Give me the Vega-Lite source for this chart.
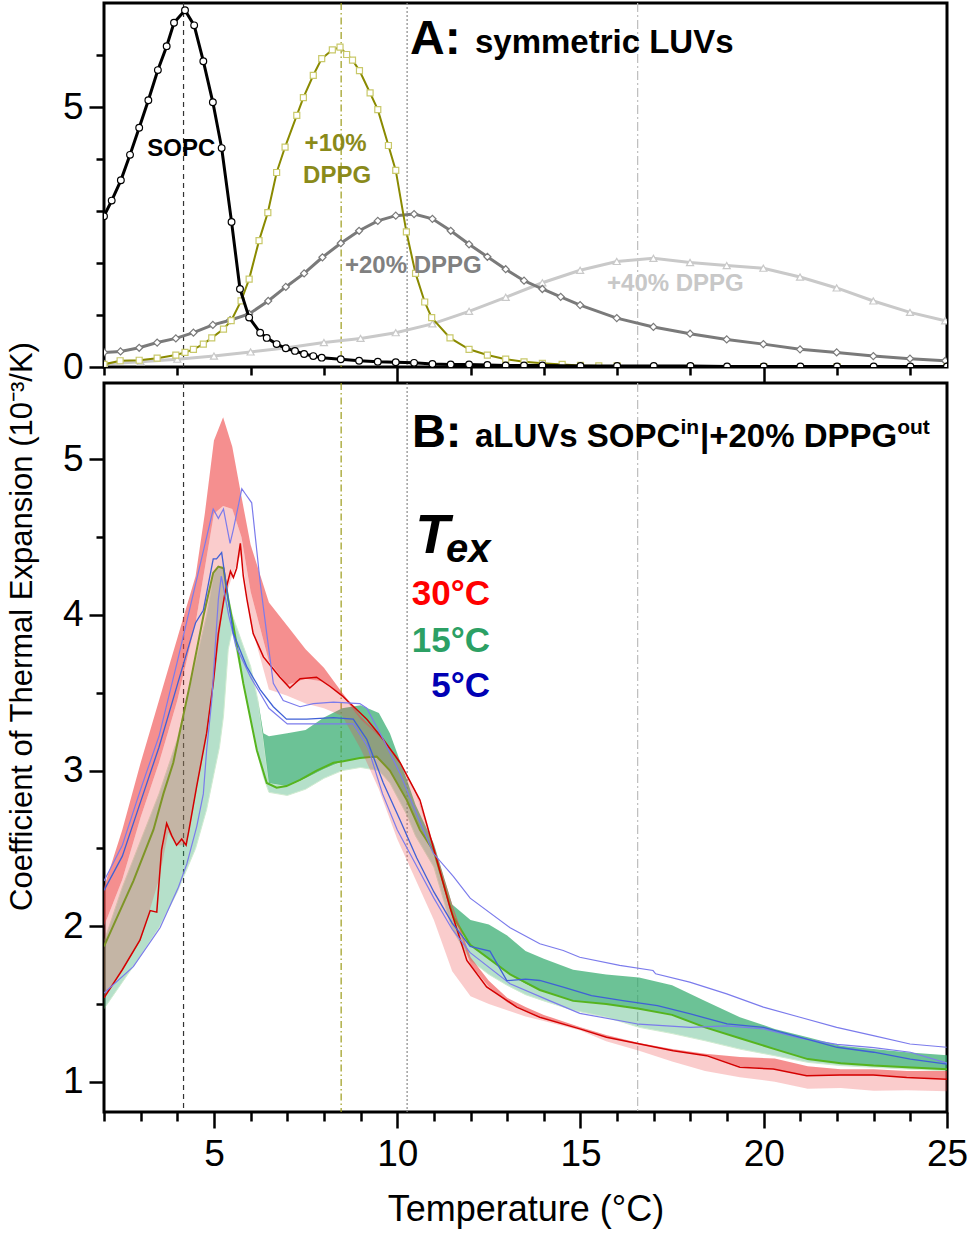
{
  "$schema": "https://vega.github.io/schema/vega-lite/v6.json",
  "padding": {"left": 4, "top": 0, "right": 0, "bottom": 0},
  "spacing": 16,
  "bounds": "flush",
  "config": {
    "font": "Liberation Sans",
    "view": {"stroke": "black", "strokeWidth": 3},
    "axis": {
      "grid": false, "domain": false, "tickColor": "black", "tickWidth": 2.5,
      "labelColor": "black", "labelFont": "Liberation Sans", "labelFontSize": 37,
      "labelFlush": false, "labelOverlap": false, "labelBound": false,
      "titleFont": "Liberation Sans", "titleColor": "black", "titleFontWeight": "normal"
    }
  },
  "datasets": {
    "refs": [
      {"k": "SOPC", "T": 4.17}, {"k": "+10%", "T": 8.47}, {"k": "+20%", "T": 10.27}, {"k": "+40%", "T": 16.56}
    ],
    "sym": [
      {"lipid": "SOPC", "T": 2.0, "v": 2.90}, {"lipid": "SOPC", "T": 2.21, "v": 3.20}, {"lipid": "SOPC", "T": 2.46, "v": 3.59},
      {"lipid": "SOPC", "T": 2.71, "v": 4.08}, {"lipid": "SOPC", "T": 2.96, "v": 4.60}, {"lipid": "SOPC", "T": 3.21, "v": 5.13},
      {"lipid": "SOPC", "T": 3.47, "v": 5.71}, {"lipid": "SOPC", "T": 3.71, "v": 6.17}, {"lipid": "SOPC", "T": 3.91, "v": 6.62},
      {"lipid": "SOPC", "T": 4.21, "v": 6.86}, {"lipid": "SOPC", "T": 4.46, "v": 6.57}, {"lipid": "SOPC", "T": 4.71, "v": 5.88},
      {"lipid": "SOPC", "T": 4.97, "v": 5.09}, {"lipid": "SOPC", "T": 5.21, "v": 4.21}, {"lipid": "SOPC", "T": 5.48, "v": 2.79},
      {"lipid": "SOPC", "T": 5.71, "v": 1.50}, {"lipid": "SOPC", "T": 5.96, "v": 0.95}, {"lipid": "SOPC", "T": 6.26, "v": 0.66},
      {"lipid": "SOPC", "T": 6.44, "v": 0.56}, {"lipid": "SOPC", "T": 6.71, "v": 0.44}, {"lipid": "SOPC", "T": 6.96, "v": 0.36},
      {"lipid": "SOPC", "T": 7.21, "v": 0.31}, {"lipid": "SOPC", "T": 7.46, "v": 0.25}, {"lipid": "SOPC", "T": 7.71, "v": 0.21},
      {"lipid": "SOPC", "T": 7.94, "v": 0.18}, {"lipid": "SOPC", "T": 8.46, "v": 0.15}, {"lipid": "SOPC", "T": 8.96, "v": 0.12},
      {"lipid": "SOPC", "T": 9.47, "v": 0.10}, {"lipid": "SOPC", "T": 9.96, "v": 0.09}, {"lipid": "SOPC", "T": 10.46, "v": 0.08},
      {"lipid": "SOPC", "T": 10.96, "v": 0.06}, {"lipid": "SOPC", "T": 11.46, "v": 0.05}, {"lipid": "SOPC", "T": 11.96, "v": 0.05},
      {"lipid": "SOPC", "T": 12.46, "v": 0.04}, {"lipid": "SOPC", "T": 12.96, "v": 0.03}, {"lipid": "SOPC", "T": 13.46, "v": 0.03},
      {"lipid": "SOPC", "T": 13.96, "v": 0.03}, {"lipid": "SOPC", "T": 15, "v": 0.02}, {"lipid": "SOPC", "T": 16, "v": 0.02},
      {"lipid": "SOPC", "T": 17, "v": 0.02}, {"lipid": "SOPC", "T": 18, "v": 0.02}, {"lipid": "SOPC", "T": 19, "v": 0.01},
      {"lipid": "SOPC", "T": 20, "v": 0.01}, {"lipid": "SOPC", "T": 21, "v": 0.01}, {"lipid": "SOPC", "T": 22, "v": 0.01},
      {"lipid": "SOPC", "T": 23, "v": 0.01}, {"lipid": "SOPC", "T": 24, "v": 0.01}, {"lipid": "SOPC", "T": 25, "v": 0.01},

      {"lipid": "+10%", "T": 2.0, "v": 0.05}, {"lipid": "+10%", "T": 2.44, "v": 0.12}, {"lipid": "+10%", "T": 2.96, "v": 0.13},
      {"lipid": "+10%", "T": 3.45, "v": 0.17}, {"lipid": "+10%", "T": 3.96, "v": 0.23}, {"lipid": "+10%", "T": 4.21, "v": 0.28},
      {"lipid": "+10%", "T": 4.44, "v": 0.34}, {"lipid": "+10%", "T": 4.71, "v": 0.44}, {"lipid": "+10%", "T": 4.94, "v": 0.56},
      {"lipid": "+10%", "T": 5.26, "v": 0.73}, {"lipid": "+10%", "T": 5.47, "v": 0.89}, {"lipid": "+10%", "T": 5.74, "v": 1.27},
      {"lipid": "+10%", "T": 5.96, "v": 1.69}, {"lipid": "+10%", "T": 6.23, "v": 2.43}, {"lipid": "+10%", "T": 6.47, "v": 2.97},
      {"lipid": "+10%", "T": 6.71, "v": 3.74}, {"lipid": "+10%", "T": 6.94, "v": 4.23}, {"lipid": "+10%", "T": 7.26, "v": 4.84},
      {"lipid": "+10%", "T": 7.44, "v": 5.18}, {"lipid": "+10%", "T": 7.71, "v": 5.61}, {"lipid": "+10%", "T": 7.94, "v": 5.93},
      {"lipid": "+10%", "T": 8.23, "v": 6.10}, {"lipid": "+10%", "T": 8.44, "v": 6.15}, {"lipid": "+10%", "T": 8.62, "v": 6.01},
      {"lipid": "+10%", "T": 8.78, "v": 5.90}, {"lipid": "+10%", "T": 8.97, "v": 5.70}, {"lipid": "+10%", "T": 9.26, "v": 5.27},
      {"lipid": "+10%", "T": 9.47, "v": 4.95}, {"lipid": "+10%", "T": 9.76, "v": 4.26}, {"lipid": "+10%", "T": 9.96, "v": 3.78},
      {"lipid": "+10%", "T": 10.25, "v": 2.60}, {"lipid": "+10%", "T": 10.5, "v": 1.80}, {"lipid": "+10%", "T": 10.75, "v": 1.25},
      {"lipid": "+10%", "T": 10.94, "v": 0.95}, {"lipid": "+10%", "T": 11.44, "v": 0.56}, {"lipid": "+10%", "T": 11.96, "v": 0.34},
      {"lipid": "+10%", "T": 12.46, "v": 0.23}, {"lipid": "+10%", "T": 12.96, "v": 0.15}, {"lipid": "+10%", "T": 13.46, "v": 0.10},
      {"lipid": "+10%", "T": 13.96, "v": 0.07}, {"lipid": "+10%", "T": 14.5, "v": 0.05}, {"lipid": "+10%", "T": 15, "v": 0.03},
      {"lipid": "+10%", "T": 15.5, "v": 0.02}, {"lipid": "+10%", "T": 16, "v": 0.02}, {"lipid": "+10%", "T": 18, "v": 0.01},
      {"lipid": "+10%", "T": 20, "v": 0.01}, {"lipid": "+10%", "T": 22, "v": 0.01}, {"lipid": "+10%", "T": 25, "v": 0.01},

      {"lipid": "+20%", "T": 2.0, "v": 0.28}, {"lipid": "+20%", "T": 2.45, "v": 0.30}, {"lipid": "+20%", "T": 2.96, "v": 0.37},
      {"lipid": "+20%", "T": 3.45, "v": 0.47}, {"lipid": "+20%", "T": 3.96, "v": 0.55}, {"lipid": "+20%", "T": 4.44, "v": 0.66},
      {"lipid": "+20%", "T": 4.97, "v": 0.81}, {"lipid": "+20%", "T": 5.44, "v": 0.90}, {"lipid": "+20%", "T": 5.96, "v": 1.02},
      {"lipid": "+20%", "T": 6.48, "v": 1.27}, {"lipid": "+20%", "T": 6.96, "v": 1.54}, {"lipid": "+20%", "T": 7.46, "v": 1.80},
      {"lipid": "+20%", "T": 7.96, "v": 2.11}, {"lipid": "+20%", "T": 8.46, "v": 2.38}, {"lipid": "+20%", "T": 8.96, "v": 2.62},
      {"lipid": "+20%", "T": 9.47, "v": 2.81}, {"lipid": "+20%", "T": 9.96, "v": 2.91}, {"lipid": "+20%", "T": 10.46, "v": 2.94},
      {"lipid": "+20%", "T": 10.96, "v": 2.85}, {"lipid": "+20%", "T": 11.46, "v": 2.62}, {"lipid": "+20%", "T": 11.96, "v": 2.36},
      {"lipid": "+20%", "T": 12.46, "v": 2.12}, {"lipid": "+20%", "T": 12.96, "v": 1.88}, {"lipid": "+20%", "T": 13.46, "v": 1.66},
      {"lipid": "+20%", "T": 13.96, "v": 1.50}, {"lipid": "+20%", "T": 14.46, "v": 1.35}, {"lipid": "+20%", "T": 14.99, "v": 1.19},
      {"lipid": "+20%", "T": 15.99, "v": 0.94}, {"lipid": "+20%", "T": 16.99, "v": 0.77}, {"lipid": "+20%", "T": 17.99, "v": 0.64},
      {"lipid": "+20%", "T": 18.99, "v": 0.53}, {"lipid": "+20%", "T": 19.99, "v": 0.44}, {"lipid": "+20%", "T": 20.99, "v": 0.34},
      {"lipid": "+20%", "T": 21.99, "v": 0.28}, {"lipid": "+20%", "T": 22.99, "v": 0.21}, {"lipid": "+20%", "T": 23.99, "v": 0.16},
      {"lipid": "+20%", "T": 24.95, "v": 0.12},

      {"lipid": "+40%", "T": 2.0, "v": 0.06}, {"lipid": "+40%", "T": 3.0, "v": 0.10}, {"lipid": "+40%", "T": 4.0, "v": 0.15},
      {"lipid": "+40%", "T": 5.0, "v": 0.21}, {"lipid": "+40%", "T": 6.0, "v": 0.29}, {"lipid": "+40%", "T": 7.0, "v": 0.37},
      {"lipid": "+40%", "T": 8.0, "v": 0.47}, {"lipid": "+40%", "T": 9.0, "v": 0.55}, {"lipid": "+40%", "T": 9.96, "v": 0.66},
      {"lipid": "+40%", "T": 10.96, "v": 0.83}, {"lipid": "+40%", "T": 11.96, "v": 1.07}, {"lipid": "+40%", "T": 12.96, "v": 1.34},
      {"lipid": "+40%", "T": 13.96, "v": 1.62}, {"lipid": "+40%", "T": 14.99, "v": 1.86}, {"lipid": "+40%", "T": 15.99, "v": 2.03},
      {"lipid": "+40%", "T": 16.99, "v": 2.09}, {"lipid": "+40%", "T": 17.99, "v": 2.01}, {"lipid": "+40%", "T": 18.99, "v": 1.95},
      {"lipid": "+40%", "T": 19.99, "v": 1.90}, {"lipid": "+40%", "T": 20.99, "v": 1.73}, {"lipid": "+40%", "T": 21.99, "v": 1.52},
      {"lipid": "+40%", "T": 22.99, "v": 1.27}, {"lipid": "+40%", "T": 23.99, "v": 1.05}, {"lipid": "+40%", "T": 24.95, "v": 0.89}
    ],
    "redband": [
      {"T": 2, "hi": 2.25, "mid": 2.0, "lo": 1.54}, {"T": 2.5, "hi": 2.62, "mid": 2.3, "lo": 1.72},
      {"T": 3, "hi": 3.05, "mid": 2.7, "lo": 1.91}, {"T": 3.5, "hi": 3.45, "mid": 3.05, "lo": 2.3},
      {"T": 3.75, "hi": 3.65, "mid": 3.25, "lo": 2.6}, {"T": 4, "hi": 3.85, "mid": 3.45, "lo": 2.52},
      {"T": 4.25, "hi": 4.05, "mid": 3.7, "lo": 2.52}, {"T": 4.5, "hi": 4.25, "mid": 3.95, "lo": 2.85},
      {"T": 4.75, "hi": 4.65, "mid": 4.3, "lo": 3.17}, {"T": 5, "hi": 5.12, "mid": 4.65, "lo": 3.56},
      {"T": 5.25, "hi": 5.27, "mid": 4.7, "lo": 4.07}, {"T": 5.5, "hi": 5.08, "mid": 4.68, "lo": 4.25},
      {"T": 5.75, "hi": 4.76, "mid": 4.5, "lo": 4.4}, {"T": 6, "hi": 4.45, "mid": 4.15, "lo": 3.95},
      {"T": 6.5, "hi": 4.08, "mid": 3.7, "lo": 3.52}, {"T": 7, "hi": 3.93, "mid": 3.55, "lo": 3.48},
      {"T": 7.5, "hi": 3.78, "mid": 3.59, "lo": 3.43}, {"T": 8, "hi": 3.66, "mid": 3.57, "lo": 3.4},
      {"T": 8.5, "hi": 3.5, "mid": 3.48, "lo": 3.35}, {"T": 9, "hi": 3.35, "mid": 3.33, "lo": 3.14},
      {"T": 9.5, "hi": 3.23, "mid": 3.22, "lo": 2.88}, {"T": 10, "hi": 3.09, "mid": 3.08, "lo": 2.56},
      {"T": 10.5, "hi": 2.87, "mid": 2.86, "lo": 2.3}, {"T": 11, "hi": 2.52, "mid": 2.5, "lo": 2.04},
      {"T": 11.5, "hi": 2.14, "mid": 2.12, "lo": 1.71}, {"T": 12, "hi": 1.8, "mid": 1.75, "lo": 1.55},
      {"T": 12.5, "hi": 1.65, "mid": 1.61, "lo": 1.5}, {"T": 13, "hi": 1.54, "mid": 1.51, "lo": 1.46},
      {"T": 13.5, "hi": 1.48, "mid": 1.46, "lo": 1.42}, {"T": 14, "hi": 1.43, "mid": 1.41, "lo": 1.39},
      {"T": 15, "hi": 1.35, "mid": 1.34, "lo": 1.33}, {"T": 15.7, "hi": 1.3, "mid": 1.29, "lo": 1.26},
      {"T": 16.6, "hi": 1.25, "mid": 1.24, "lo": 1.2}, {"T": 17.5, "hi": 1.21, "mid": 1.2, "lo": 1.13},
      {"T": 18.4, "hi": 1.18, "mid": 1.17, "lo": 1.07}, {"T": 19.35, "hi": 1.16, "mid": 1.1, "lo": 1.03},
      {"T": 20.3, "hi": 1.15, "mid": 1.08, "lo": 1.0}, {"T": 21.2, "hi": 1.1, "mid": 1.04, "lo": 0.955},
      {"T": 22.1, "hi": 1.08, "mid": 1.04, "lo": 0.96}, {"T": 23, "hi": 1.08, "mid": 1.04, "lo": 0.943},
      {"T": 23.9, "hi": 1.07, "mid": 1.03, "lo": 0.945}, {"T": 25, "hi": 1.07, "mid": 1.02, "lo": 0.94}
    ],
    "greenband": [
      {"T": 2, "hi": 1.9, "mid": 1.9, "lo": 1.47}, {"T": 2.5, "hi": 2.25, "mid": 2.25, "lo": 1.64},
      {"T": 3, "hi": 2.55, "mid": 2.55, "lo": 1.81}, {"T": 3.5, "hi": 2.85, "mid": 2.85, "lo": 1.99},
      {"T": 4, "hi": 3.2, "mid": 3.2, "lo": 2.22}, {"T": 4.5, "hi": 3.7, "mid": 3.7, "lo": 2.5},
      {"T": 4.8, "hi": 4.0, "mid": 4.0, "lo": 2.75}, {"T": 5, "hi": 4.27, "mid": 4.27, "lo": 2.98},
      {"T": 5.15, "hi": 4.31, "mid": 4.31, "lo": 3.15}, {"T": 5.26, "hi": 4.31, "mid": 4.31, "lo": 3.35},
      {"T": 5.39, "hi": 4.12, "mid": 4.12, "lo": 3.78}, {"T": 5.5, "hi": 4.0, "mid": 4.0, "lo": 3.9},
      {"T": 5.8, "hi": 3.8, "mid": 3.8, "lo": 3.56}, {"T": 6, "hi": 3.67, "mid": 3.67, "lo": 3.33},
      {"T": 6.2, "hi": 3.45, "mid": 3.45, "lo": 3.1}, {"T": 6.35, "hi": 3.24, "mid": 3.2, "lo": 2.96},
      {"T": 6.5, "hi": 3.22, "mid": 2.92, "lo": 2.86}, {"T": 7, "hi": 3.24, "mid": 2.9, "lo": 2.84},
      {"T": 7.5, "hi": 3.26, "mid": 2.95, "lo": 2.88}, {"T": 8, "hi": 3.34, "mid": 3.01, "lo": 2.95},
      {"T": 8.5, "hi": 3.4, "mid": 3.06, "lo": 3.0}, {"T": 9, "hi": 3.42, "mid": 3.08, "lo": 3.02},
      {"T": 9.5, "hi": 3.37, "mid": 3.08, "lo": 3.0}, {"T": 9.8, "hi": 3.24, "mid": 3.0, "lo": 2.92},
      {"T": 10.25, "hi": 2.95, "mid": 2.81, "lo": 2.72}, {"T": 10.5, "hi": 2.78, "mid": 2.68, "lo": 2.58},
      {"T": 11, "hi": 2.53, "mid": 2.48, "lo": 2.38}, {"T": 11.5, "hi": 2.14, "mid": 2.08, "lo": 1.98},
      {"T": 12, "hi": 2.04, "mid": 1.88, "lo": 1.78}, {"T": 12.5, "hi": 2.01, "mid": 1.79, "lo": 1.69},
      {"T": 13, "hi": 1.94, "mid": 1.7, "lo": 1.62}, {"T": 13.5, "hi": 1.84, "mid": 1.63, "lo": 1.56},
      {"T": 14, "hi": 1.79, "mid": 1.58, "lo": 1.52}, {"T": 14.8, "hi": 1.72, "mid": 1.52, "lo": 1.46},
      {"T": 15.7, "hi": 1.69, "mid": 1.5, "lo": 1.415}, {"T": 16.6, "hi": 1.67, "mid": 1.47, "lo": 1.35},
      {"T": 17.5, "hi": 1.62, "mid": 1.43, "lo": 1.31}, {"T": 18.4, "hi": 1.52, "mid": 1.35, "lo": 1.264},
      {"T": 19.35, "hi": 1.415, "mid": 1.28, "lo": 1.21}, {"T": 20.3, "hi": 1.34, "mid": 1.21, "lo": 1.168},
      {"T": 21.2, "hi": 1.286, "mid": 1.146, "lo": 1.125}, {"T": 22.1, "hi": 1.232, "mid": 1.12, "lo": 1.104},
      {"T": 23, "hi": 1.21, "mid": 1.104, "lo": 1.093}, {"T": 23.9, "hi": 1.19, "mid": 1.093, "lo": 1.082},
      {"T": 25, "hi": 1.17, "mid": 1.08, "lo": 1.071}
    ],
    "redline": [
      {"T": 2.0, "v": 1.54}, {"T": 2.5, "v": 1.72}, {"T": 2.98, "v": 1.91}, {"T": 3.26, "v": 2.10}, {"T": 3.44, "v": 2.09},
      {"T": 3.57, "v": 2.49}, {"T": 3.71, "v": 2.66}, {"T": 3.85, "v": 2.58}, {"T": 3.98, "v": 2.52}, {"T": 4.12, "v": 2.56},
      {"T": 4.24, "v": 2.52}, {"T": 4.32, "v": 2.62}, {"T": 4.53, "v": 2.90}, {"T": 4.8, "v": 3.24}, {"T": 4.98, "v": 3.56},
      {"T": 5.12, "v": 3.88}, {"T": 5.3, "v": 4.14}, {"T": 5.45, "v": 4.28}, {"T": 5.53, "v": 4.24}, {"T": 5.62, "v": 4.30},
      {"T": 5.72, "v": 4.46}, {"T": 5.8, "v": 4.25}, {"T": 5.9, "v": 4.10}, {"T": 6.07, "v": 3.88}, {"T": 6.35, "v": 3.73},
      {"T": 6.8, "v": 3.60}, {"T": 7.07, "v": 3.53}, {"T": 7.35, "v": 3.59}, {"T": 7.8, "v": 3.60}, {"T": 8.17, "v": 3.54},
      {"T": 8.5, "v": 3.48}, {"T": 9.17, "v": 3.33}, {"T": 9.62, "v": 3.20}, {"T": 10.08, "v": 3.05}, {"T": 10.62, "v": 2.81},
      {"T": 10.98, "v": 2.51}, {"T": 11.44, "v": 2.12}, {"T": 11.9, "v": 1.78}, {"T": 12.44, "v": 1.61}, {"T": 13.26, "v": 1.48},
      {"T": 13.89, "v": 1.415}, {"T": 14.98, "v": 1.34}, {"T": 15.71, "v": 1.286}, {"T": 16.62, "v": 1.243}, {"T": 17.53, "v": 1.20},
      {"T": 18.44, "v": 1.168}, {"T": 19.35, "v": 1.093}, {"T": 20.26, "v": 1.082}, {"T": 21.17, "v": 1.039}, {"T": 22.08, "v": 1.043},
      {"T": 22.99, "v": 1.043}, {"T": 23.9, "v": 1.028}, {"T": 25, "v": 1.017}
    ],
    "greenline": [
      {"T": 2.0, "v": 1.87}, {"T": 2.8, "v": 2.29}, {"T": 3.35, "v": 2.62}, {"T": 3.62, "v": 2.85}, {"T": 3.89, "v": 3.05},
      {"T": 4.35, "v": 3.56}, {"T": 4.71, "v": 3.99}, {"T": 4.98, "v": 4.27}, {"T": 5.12, "v": 4.31}, {"T": 5.26, "v": 4.30},
      {"T": 5.39, "v": 4.10}, {"T": 5.53, "v": 3.93}, {"T": 5.8, "v": 3.56}, {"T": 6.17, "v": 3.13}, {"T": 6.44, "v": 2.92},
      {"T": 6.71, "v": 2.89}, {"T": 6.98, "v": 2.90}, {"T": 7.35, "v": 2.94}, {"T": 7.8, "v": 3.00}, {"T": 8.26, "v": 3.05},
      {"T": 8.53, "v": 3.06}, {"T": 8.98, "v": 3.08}, {"T": 9.44, "v": 3.09}, {"T": 9.8, "v": 3.00}, {"T": 10.26, "v": 2.81},
      {"T": 10.62, "v": 2.62}, {"T": 11.0, "v": 2.48}, {"T": 11.53, "v": 2.06}, {"T": 11.99, "v": 1.88}, {"T": 13.08, "v": 1.69},
      {"T": 13.89, "v": 1.59}, {"T": 14.8, "v": 1.52}, {"T": 15.7, "v": 1.50}, {"T": 16.6, "v": 1.47}, {"T": 17.5, "v": 1.43},
      {"T": 18.4, "v": 1.35}, {"T": 19.35, "v": 1.28}, {"T": 20.3, "v": 1.21}, {"T": 21.2, "v": 1.146}, {"T": 22.1, "v": 1.12},
      {"T": 23.0, "v": 1.104}, {"T": 23.9, "v": 1.093}, {"T": 25.0, "v": 1.08}
    ],
    "blue": [
      {"line": "b1", "T": 2.0, "v": 2.29}, {"line": "b1", "T": 2.5, "v": 2.52}, {"line": "b1", "T": 3.0, "v": 2.88},
      {"line": "b1", "T": 3.5, "v": 3.22}, {"line": "b1", "T": 4.0, "v": 3.70}, {"line": "b1", "T": 4.5, "v": 4.20},
      {"line": "b1", "T": 4.98, "v": 4.68}, {"line": "b1", "T": 5.12, "v": 4.62}, {"line": "b1", "T": 5.26, "v": 4.68},
      {"line": "b1", "T": 5.44, "v": 4.46}, {"line": "b1", "T": 5.53, "v": 4.55}, {"line": "b1", "T": 5.76, "v": 4.81},
      {"line": "b1", "T": 5.85, "v": 4.78}, {"line": "b1", "T": 6.03, "v": 4.72}, {"line": "b1", "T": 6.26, "v": 4.21},
      {"line": "b1", "T": 6.44, "v": 3.88}, {"line": "b1", "T": 6.62, "v": 3.56}, {"line": "b1", "T": 6.89, "v": 3.45},
      {"line": "b1", "T": 7.35, "v": 3.41}, {"line": "b1", "T": 7.71, "v": 3.43}, {"line": "b1", "T": 8.26, "v": 3.44},
      {"line": "b1", "T": 8.98, "v": 3.43}, {"line": "b1", "T": 9.17, "v": 3.40}, {"line": "b1", "T": 9.62, "v": 3.20},
      {"line": "b1", "T": 10.08, "v": 2.98}, {"line": "b1", "T": 10.53, "v": 2.72}, {"line": "b1", "T": 10.98, "v": 2.47},
      {"line": "b1", "T": 11.53, "v": 2.32}, {"line": "b1", "T": 11.99, "v": 2.18}, {"line": "b1", "T": 13.08, "v": 1.99},
      {"line": "b1", "T": 13.89, "v": 1.887}, {"line": "b1", "T": 14.53, "v": 1.844}, {"line": "b1", "T": 14.98, "v": 1.80},
      {"line": "b1", "T": 16.07, "v": 1.748}, {"line": "b1", "T": 16.98, "v": 1.715}, {"line": "b1", "T": 17.05, "v": 1.694},
      {"line": "b1", "T": 17.98, "v": 1.64}, {"line": "b1", "T": 18.99, "v": 1.565}, {"line": "b1", "T": 19.99, "v": 1.48},
      {"line": "b1", "T": 20.99, "v": 1.415}, {"line": "b1", "T": 21.99, "v": 1.35}, {"line": "b1", "T": 22.99, "v": 1.297},
      {"line": "b1", "T": 23.99, "v": 1.243}, {"line": "b1", "T": 24.99, "v": 1.222},

      {"line": "b2", "T": 2.0, "v": 2.23}, {"line": "b2", "T": 2.5, "v": 2.45}, {"line": "b2", "T": 3.0, "v": 2.80},
      {"line": "b2", "T": 3.5, "v": 3.15}, {"line": "b2", "T": 4.0, "v": 3.55}, {"line": "b2", "T": 4.5, "v": 3.95},
      {"line": "b2", "T": 4.71, "v": 4.03}, {"line": "b2", "T": 4.98, "v": 4.36}, {"line": "b2", "T": 5.07, "v": 4.36},
      {"line": "b2", "T": 5.21, "v": 4.40}, {"line": "b2", "T": 5.39, "v": 4.10}, {"line": "b2", "T": 5.53, "v": 3.88},
      {"line": "b2", "T": 5.89, "v": 3.67}, {"line": "b2", "T": 6.26, "v": 3.52}, {"line": "b2", "T": 6.62, "v": 3.41},
      {"line": "b2", "T": 6.98, "v": 3.33}, {"line": "b2", "T": 7.53, "v": 3.33}, {"line": "b2", "T": 8.26, "v": 3.34},
      {"line": "b2", "T": 8.8, "v": 3.33}, {"line": "b2", "T": 9.17, "v": 3.20}, {"line": "b2", "T": 9.62, "v": 2.92},
      {"line": "b2", "T": 10.08, "v": 2.68}, {"line": "b2", "T": 10.53, "v": 2.44}, {"line": "b2", "T": 11.0, "v": 2.22},
      {"line": "b2", "T": 11.5, "v": 2.02}, {"line": "b2", "T": 11.99, "v": 1.87}, {"line": "b2", "T": 12.53, "v": 1.84},
      {"line": "b2", "T": 12.99, "v": 1.65}, {"line": "b2", "T": 13.5, "v": 1.66}, {"line": "b2", "T": 13.89, "v": 1.651},
      {"line": "b2", "T": 14.53, "v": 1.608}, {"line": "b2", "T": 15.3, "v": 1.554}, {"line": "b2", "T": 16.2, "v": 1.52},
      {"line": "b2", "T": 17.1, "v": 1.49}, {"line": "b2", "T": 18.0, "v": 1.436}, {"line": "b2", "T": 19.0, "v": 1.372},
      {"line": "b2", "T": 20.0, "v": 1.35}, {"line": "b2", "T": 21.0, "v": 1.286}, {"line": "b2", "T": 22.0, "v": 1.222},
      {"line": "b2", "T": 23.0, "v": 1.19}, {"line": "b2", "T": 24.0, "v": 1.146}, {"line": "b2", "T": 25.0, "v": 1.114},

      {"line": "b3", "T": 2.0, "v": 1.57}, {"line": "b3", "T": 2.8, "v": 1.74}, {"line": "b3", "T": 3.53, "v": 1.99},
      {"line": "b3", "T": 4.03, "v": 2.25}, {"line": "b3", "T": 4.26, "v": 2.40}, {"line": "b3", "T": 4.53, "v": 2.64},
      {"line": "b3", "T": 4.71, "v": 2.85}, {"line": "b3", "T": 4.8, "v": 3.13}, {"line": "b3", "T": 4.94, "v": 3.45},
      {"line": "b3", "T": 5.03, "v": 3.78}, {"line": "b3", "T": 5.12, "v": 4.10}, {"line": "b3", "T": 5.2, "v": 4.25},
      {"line": "b3", "T": 5.4, "v": 4.00}, {"line": "b3", "T": 5.6, "v": 3.80}, {"line": "b3", "T": 6.0, "v": 3.60},
      {"line": "b3", "T": 6.5, "v": 3.40}, {"line": "b3", "T": 7.0, "v": 3.30}, {"line": "b3", "T": 8.0, "v": 3.30},
      {"line": "b3", "T": 8.8, "v": 3.30}, {"line": "b3", "T": 9.2, "v": 3.15}, {"line": "b3", "T": 9.6, "v": 2.85},
      {"line": "b3", "T": 10.0, "v": 2.62}, {"line": "b3", "T": 10.5, "v": 2.40}, {"line": "b3", "T": 11.0, "v": 2.18},
      {"line": "b3", "T": 11.5, "v": 1.98}, {"line": "b3", "T": 11.99, "v": 1.83}, {"line": "b3", "T": 13.08, "v": 1.63},
      {"line": "b3", "T": 14.17, "v": 1.52}, {"line": "b3", "T": 14.98, "v": 1.44}, {"line": "b3", "T": 16.6, "v": 1.37},
      {"line": "b3", "T": 18.0, "v": 1.35}, {"line": "b3", "T": 19.0, "v": 1.36}, {"line": "b3", "T": 20.0, "v": 1.34},
      {"line": "b3", "T": 21.0, "v": 1.28}, {"line": "b3", "T": 22.0, "v": 1.24}, {"line": "b3", "T": 23.0, "v": 1.22},
      {"line": "b3", "T": 24.0, "v": 1.19}, {"line": "b3", "T": 25.0, "v": 1.12}
    ]
  },
  "vconcat": [
    {
      "width": 843,
      "height": 364,
      "layer": [
        {
          "data": {"name": "refs"},
          "mark": {"type": "rule", "strokeWidth": 1.2},
          "encoding": {
            "x": {"field": "T", "type": "quantitative", "scale": {"domain": [2, 25], "nice": false, "zero": false}},
            "color": {"field": "k", "type": "nominal", "legend": null,
              "scale": {"domain": ["SOPC", "+10%", "+20%", "+40%"], "range": ["#333333", "#9c9c1a", "#8a8a8a", "#bdbdbd"]}},
            "strokeDash": {"field": "k", "type": "nominal", "legend": null,
              "scale": {"domain": ["SOPC", "+10%", "+20%", "+40%"], "range": [[5, 4], [7, 3, 1.5, 3], [2, 2], [9, 3, 2, 3]]}}
          }
        },
        {
          "data": {"name": "sym"},
          "transform": [{"filter": "datum.lipid === '+40%'"}],
          "mark": {"type": "line", "color": "#c9c9c9", "strokeWidth": 3, "clip": true,
            "point": {"shape": "triangle-up", "filled": true, "fill": "white", "stroke": "#c9c9c9", "strokeWidth": 1.2, "size": 50}},
          "encoding": {
            "x": {"field": "T", "type": "quantitative",
              "axis": {"values": [2,3,4,5,6,7,8,9,10,11,12,13,14,15,16,17,18,19,20,21,22,23,24,25], "labels": false, "title": null,
                "tickSize": {"condition": {"test": "datum.value % 5 === 0", "value": 15}, "value": 8}}},
            "y": {"field": "v", "type": "quantitative", "scale": {"domain": [0, 7], "nice": false, "zero": false},
              "axis": {"values": [0,1,2,3,4,5,6], "labelExpr": "datum.value % 5 === 0 ? format(datum.value, 'd') : ''", "title": null,
                "labelPadding": 6,
                "tickSize": {"condition": {"test": "datum.value % 5 === 0", "value": 15}, "value": 8}}}
          }
        },
        {
          "data": {"name": "sym"},
          "transform": [{"filter": "datum.lipid === '+20%'"}],
          "mark": {"type": "line", "color": "#7a7a7a", "strokeWidth": 3, "clip": true,
            "point": {"shape": "diamond", "filled": true, "fill": "white", "stroke": "#7a7a7a", "strokeWidth": 1.2, "size": 50}},
          "encoding": {"x": {"field": "T", "type": "quantitative"}, "y": {"field": "v", "type": "quantitative"}}
        },
        {
          "data": {"name": "sym"},
          "transform": [{"filter": "datum.lipid === '+10%'"}],
          "mark": {"type": "line", "color": "#8a8a00", "strokeWidth": 2, "clip": true,
            "point": {"shape": "square", "filled": true, "fill": "white", "stroke": "#c9c96a", "strokeWidth": 1.2, "size": 36}},
          "encoding": {"x": {"field": "T", "type": "quantitative"}, "y": {"field": "v", "type": "quantitative"}}
        },
        {
          "data": {"name": "sym"},
          "transform": [{"filter": "datum.lipid === 'SOPC'"}],
          "mark": {"type": "line", "color": "black", "strokeWidth": 3, "clip": true,
            "point": {"shape": "circle", "filled": true, "fill": "white", "stroke": "black", "strokeWidth": 1.2, "size": 45}},
          "encoding": {"x": {"field": "T", "type": "quantitative"}, "y": {"field": "v", "type": "quantitative"}}
        },
        {
          "data": {"values": [{"T": 10.35, "v": 6.02, "txt": "A:"}]},
          "mark": {"type": "text", "align": "left", "baseline": "alphabetic", "fontSize": 48, "fontWeight": "bold", "color": "black"},
          "encoding": {"x": {"field": "T", "type": "quantitative"}, "y": {"field": "v", "type": "quantitative"}, "text": {"field": "txt"}}
        },
        {
          "data": {"values": [{"T": 12.12, "v": 6.04, "txt": "symmetric LUVs"}]},
          "mark": {"type": "text", "align": "left", "baseline": "alphabetic", "fontSize": 33, "fontWeight": "bold", "color": "black"},
          "encoding": {"x": {"field": "T", "type": "quantitative"}, "y": {"field": "v", "type": "quantitative"}, "text": {"field": "txt"}}
        },
        {
          "data": {"values": [{"T": 4.11, "v": 4.06, "txt": "SOPC"}]},
          "mark": {"type": "text", "align": "center", "baseline": "alphabetic", "fontSize": 24, "fontWeight": "bold", "color": "black"},
          "encoding": {"x": {"field": "T", "type": "quantitative"}, "y": {"field": "v", "type": "quantitative"}, "text": {"field": "txt"}}
        },
        {
          "data": {"values": [{"T": 8.32, "v": 4.15, "txt": "+10%"}, {"T": 8.36, "v": 3.54, "txt": "DPPG"}]},
          "mark": {"type": "text", "align": "center", "baseline": "alphabetic", "fontSize": 24, "fontWeight": "bold", "color": "#8a8a1a"},
          "encoding": {"x": {"field": "T", "type": "quantitative"}, "y": {"field": "v", "type": "quantitative"}, "text": {"field": "txt"}}
        },
        {
          "data": {"values": [{"T": 10.44, "v": 1.81, "txt": "+20% DPPG"}]},
          "mark": {"type": "text", "align": "center", "baseline": "alphabetic", "fontSize": 24, "fontWeight": "bold", "color": "#808080"},
          "encoding": {"x": {"field": "T", "type": "quantitative"}, "y": {"field": "v", "type": "quantitative"}, "text": {"field": "txt"}}
        },
        {
          "data": {"values": [{"T": 17.59, "v": 1.46, "txt": "+40% DPPG"}]},
          "mark": {"type": "text", "align": "center", "baseline": "alphabetic", "fontSize": 24, "fontWeight": "bold", "color": "#c8c8c8"},
          "encoding": {"x": {"field": "T", "type": "quantitative"}, "y": {"field": "v", "type": "quantitative"}, "text": {"field": "txt"}}
        }
      ]
    },
    {
      "width": 843,
      "height": 729,
      "resolve": {"axis": {"x": "independent"}},
      "layer": [
        {
          "data": {"name": "refs"},
          "mark": {"type": "rule", "strokeWidth": 1.2},
          "encoding": {
            "x": {"field": "T", "type": "quantitative", "scale": {"domain": [2, 25], "nice": false, "zero": false},
              "axis": {"orient": "bottom", "values": [5, 10, 15, 20, 25], "format": "d", "labelPadding": 8,
                "title": "Temperature (°C)", "titleFontSize": 36, "titlePadding": 20, "tickSize": 16}},
            "color": {"field": "k", "type": "nominal", "legend": null,
              "scale": {"domain": ["SOPC", "+10%", "+20%", "+40%"], "range": ["#333333", "#9c9c1a", "#8a8a8a", "#bdbdbd"]}},
            "strokeDash": {"field": "k", "type": "nominal", "legend": null,
              "scale": {"domain": ["SOPC", "+10%", "+20%", "+40%"], "range": [[5, 4], [7, 3, 1.5, 3], [2, 2], [9, 3, 2, 3]]}}
          }
        },
        {
          "data": {"name": "greenband"},
          "mark": {"type": "area", "color": "#2ea86a", "opacity": 0.35, "stroke": "#7cc87c", "strokeWidth": 1, "clip": true},
          "encoding": {
            "x": {"field": "T", "type": "quantitative",
              "axis": {"orient": "bottom", "values": [2,3,4,6,7,8,9,11,12,13,14,16,17,18,19,21,22,23,24],
                "labels": false, "title": null, "tickSize": 9}},
            "y": {"field": "mid", "type": "quantitative", "scale": {"domain": [0.806, 5.49], "nice": false, "zero": false},
              "axis": {"values": [1, 1.5, 2, 2.5, 3, 3.5, 4, 4.5, 5], "labelExpr": "datum.value % 1 === 0 ? format(datum.value, 'd') : ''",
                "labelPadding": 6,
                "title": "Coefficient of Thermal Expansion (10⁻³/K)", "titleFontSize": 31, "titleX": -66, "titleY": 243,
                "tickSize": {"condition": {"test": "datum.value % 1 === 0", "value": 15}, "value": 8}}},
            "y2": {"field": "lo"}
          }
        },
        {
          "data": {"name": "greenband"},
          "mark": {"type": "area", "color": "#2ea86a", "opacity": 0.7, "clip": true},
          "encoding": {"x": {"field": "T", "type": "quantitative", "axis": null}, "y": {"field": "hi", "type": "quantitative"}, "y2": {"field": "mid"}}
        },
        {
          "data": {"name": "greenline"},
          "mark": {"type": "line", "color": "#56b41e", "strokeWidth": 2, "clip": true},
          "encoding": {"x": {"field": "T", "type": "quantitative", "axis": null}, "y": {"field": "v", "type": "quantitative"}}
        },
        {
          "data": {"name": "redband"},
          "mark": {"type": "area", "color": "#ee4444", "opacity": 0.27, "clip": true},
          "encoding": {"x": {"field": "T", "type": "quantitative", "axis": null}, "y": {"field": "mid", "type": "quantitative"}, "y2": {"field": "lo"}}
        },
        {
          "data": {"name": "redband"},
          "mark": {"type": "area", "color": "#ee4444", "opacity": 0.6, "clip": true},
          "encoding": {"x": {"field": "T", "type": "quantitative", "axis": null}, "y": {"field": "hi", "type": "quantitative"}, "y2": {"field": "mid"}}
        },
        {
          "data": {"name": "redline"},
          "mark": {"type": "line", "color": "#d40000", "strokeWidth": 1.5, "clip": true},
          "encoding": {"x": {"field": "T", "type": "quantitative", "axis": null}, "y": {"field": "v", "type": "quantitative"}}
        },
        {
          "data": {"name": "blue"},
          "transform": [{"filter": "datum.line !== 'b2'"}],
          "mark": {"type": "line", "color": "#7b7bec", "strokeWidth": 1.2, "clip": true},
          "encoding": {"x": {"field": "T", "type": "quantitative", "axis": null}, "y": {"field": "v", "type": "quantitative"}, "detail": {"field": "line"}}
        },
        {
          "data": {"name": "blue"},
          "transform": [{"filter": "datum.line === 'b2'"}],
          "mark": {"type": "line", "color": "#3f60d6", "strokeWidth": 1.3, "clip": true},
          "encoding": {"x": {"field": "T", "type": "quantitative", "axis": null}, "y": {"field": "v", "type": "quantitative"}}
        },
        {
          "data": {"values": [{"T": 10.40, "v": 5.077, "txt": "B:"}]},
          "mark": {"type": "text", "align": "left", "baseline": "alphabetic", "fontSize": 47, "fontWeight": "bold", "color": "black"},
          "encoding": {"x": {"field": "T", "type": "quantitative", "axis": null}, "y": {"field": "v", "type": "quantitative"}, "text": {"field": "txt"}}
        },
        {
          "data": {"values": [{"T": 12.12, "v": 5.077, "txt": "aLUVs SOPC"}, {"T": 18.26, "v": 5.077, "txt": "|+20% DPPG"}]},
          "mark": {"type": "text", "align": "left", "baseline": "alphabetic", "fontSize": 33, "fontWeight": "bold", "color": "black"},
          "encoding": {"x": {"field": "T", "type": "quantitative", "axis": null}, "y": {"field": "v", "type": "quantitative"}, "text": {"field": "txt"}}
        },
        {
          "data": {"values": [{"T": 17.73, "v": 5.161, "txt": "in"}, {"T": 23.64, "v": 5.161, "txt": "out"}]},
          "mark": {"type": "text", "align": "left", "baseline": "alphabetic", "fontSize": 21, "fontWeight": "bold", "color": "black"},
          "encoding": {"x": {"field": "T", "type": "quantitative", "axis": null}, "y": {"field": "v", "type": "quantitative"}, "text": {"field": "txt"}}
        },
        {
          "data": {"values": [{"T": 10.49, "v": 4.40, "txt": "T"}]},
          "mark": {"type": "text", "align": "left", "baseline": "alphabetic", "fontSize": 56, "fontWeight": "bold", "fontStyle": "italic", "color": "black"},
          "encoding": {"x": {"field": "T", "type": "quantitative", "axis": null}, "y": {"field": "v", "type": "quantitative"}, "text": {"field": "txt"}}
        },
        {
          "data": {"values": [{"T": 11.33, "v": 4.343, "txt": "ex"}]},
          "mark": {"type": "text", "align": "left", "baseline": "alphabetic", "fontSize": 40, "fontWeight": "bold", "fontStyle": "italic", "color": "black"},
          "encoding": {"x": {"field": "T", "type": "quantitative", "axis": null}, "y": {"field": "v", "type": "quantitative"}, "text": {"field": "txt"}}
        },
        {
          "data": {"values": [{"T": 12.53, "v": 4.066, "txt": "30°C"}]},
          "mark": {"type": "text", "align": "right", "baseline": "alphabetic", "fontSize": 35, "fontWeight": "bold", "color": "#ff0000"},
          "encoding": {"x": {"field": "T", "type": "quantitative", "axis": null}, "y": {"field": "v", "type": "quantitative"}, "text": {"field": "txt"}}
        },
        {
          "data": {"values": [{"T": 12.53, "v": 3.763, "txt": "15°C"}]},
          "mark": {"type": "text", "align": "right", "baseline": "alphabetic", "fontSize": 35, "fontWeight": "bold", "color": "#2ca064"},
          "encoding": {"x": {"field": "T", "type": "quantitative", "axis": null}, "y": {"field": "v", "type": "quantitative"}, "text": {"field": "txt"}}
        },
        {
          "data": {"values": [{"T": 12.53, "v": 3.473, "txt": "5°C"}]},
          "mark": {"type": "text", "align": "right", "baseline": "alphabetic", "fontSize": 35, "fontWeight": "bold", "color": "#0000b4"},
          "encoding": {"x": {"field": "T", "type": "quantitative", "axis": null}, "y": {"field": "v", "type": "quantitative"}, "text": {"field": "txt"}}
        }
      ]
    }
  ]
}
